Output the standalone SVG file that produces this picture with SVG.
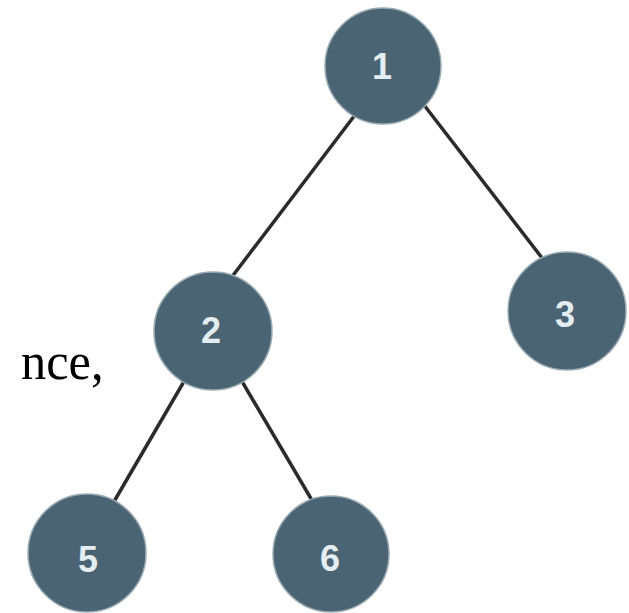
<svg xmlns="http://www.w3.org/2000/svg" width="629" height="613" viewBox="0 0 629 613">
  <style>
    .edge { stroke: #2b2b2b; stroke-width: 3.5; stroke-linecap: round; fill: none; }
    .node circle { fill: #4b6474; stroke: #9aaab2; stroke-width: 1.5; }
    .node text { fill: #e4edf1; font-family: "Liberation Sans", Arial, sans-serif; font-weight: bold; font-size: 36px; text-anchor: middle; dominant-baseline: central; }
    .side { fill: #000; font-family: "Liberation Serif", "Times New Roman", serif; font-size: 48px; }
  </style>
  <rect width="629" height="613" fill="#ffffff"/>

  <!-- tree edges -->
  <g id="connectors">
    <line class="edge" x1="358" y1="111" x2="228" y2="282"/>
    <line class="edge" x1="424" y1="105" x2="549" y2="267"/>
    <line class="edge" x1="186" y1="378" x2="112" y2="505"/>
    <line class="edge" x1="240" y1="378" x2="313" y2="502"/>
  </g>

  <!-- tree nodes -->
  <g id="node1" class="node">
    <circle cx="383" cy="66" r="58"/>
    <text x="382" y="66">1</text>
  </g>
  <g id="node2" class="node">
    <circle cx="213" cy="331" r="59"/>
    <text x="211" y="330">2</text>
  </g>
  <g id="node3" class="node">
    <circle cx="567" cy="311" r="59"/>
    <text x="565" y="314">3</text>
  </g>
  <g id="node5" class="node">
    <circle cx="87" cy="553" r="59"/>
    <text x="88" y="559">5</text>
  </g>
  <g id="node6" class="node">
    <circle cx="331" cy="554" r="58"/>
    <text x="330" y="558">6</text>
  </g>

  <text class="side" x="21" y="379" transform="translate(21 379) scale(1.05 1.1) translate(-21 -379)">nce,</text>
</svg>
